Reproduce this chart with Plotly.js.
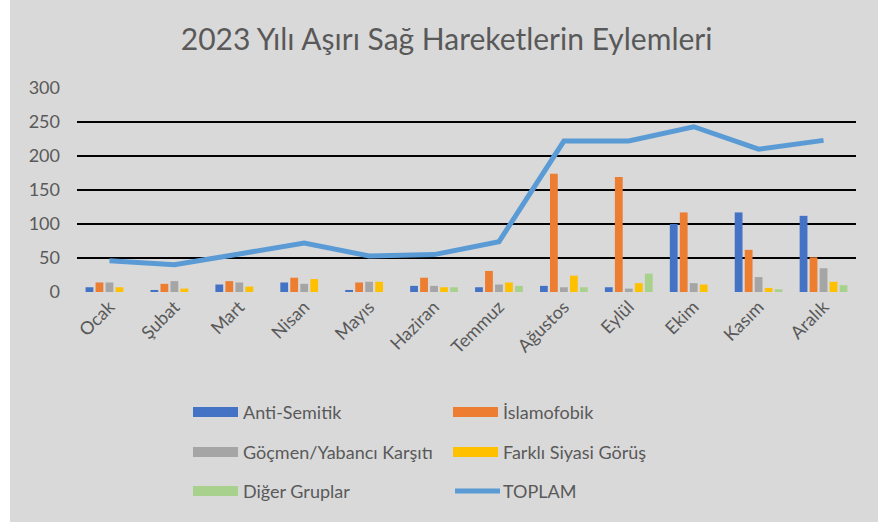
<!DOCTYPE html>
<html>
<head>
<meta charset="utf-8">
<script src="https://cdn.plot.ly/plotly-3.0.1.min.js"></script>
<style>
html,body{margin:0;padding:0;background:#ffffff;}
#chart{position:absolute;left:10px;top:0;width:868px;height:522px;}
</style>
</head>
<body>
<div id="chart"></div>
<script>
const months = ["Ocak","Şubat","Mart","Nisan","Mayıs","Haziran","Temmuz","Ağustos","Eylül","Ekim","Kasım","Aralık"];
const antiSemitik = [7, 3, 11, 14, 3, 9, 7, 9, 7, 100, 117, 112];
const islamofobik = [14, 12, 16, 21, 14, 21, 31, 174, 169, 117, 62, 51];
const gocmen = [14, 16, 14, 12, 15, 9, 11, 7, 5, 13, 22, 35];
const farkliSiyasi = [7, 5, 8, 19, 15, 7, 14, 24, 13, 11, 6, 15];
const digerGruplar = [0, 0, 0, 0, 0, 7, 9, 7, 27, 0, 4, 10];
const toplam = [46, 40, 56, 72, 53, 55, 74, 222, 222, 243, 210, 223];

const seriesNames = ["Anti-Semitik","İslamofobik","Göçmen/Yabancı Karşıtı","Farklı Siyasi Görüş","Diğer Gruplar","TOPLAM"];
const colors = ["#4472c4","#ed7d31","#a5a5a5","#ffc000","#a9d18e","#5b9bd5"];
const barData = [antiSemitik, islamofobik, gocmen, farkliSiyasi, digerGruplar];

const FONT = 'Lato, "Open Sans", sans-serif';
const W = 868, H = 522;
const margin = {l:67, r:22, t:88, b:230};
const pw = W - margin.l - margin.r, ph = H - margin.t - margin.b;
const px2x = p => (p - margin.l) / pw;
const px2y = p => (H - margin.b - p) / ph;

const traces = barData.map((d,i) => ({
  type:'bar', x: months, y: d, name: seriesNames[i],
  marker:{color: colors[i]}, showlegend:false, hoverinfo:'x+y+name'
}));
traces.push({
  type:'scatter', mode:'lines', x: months, y: toplam, name: seriesNames[5],
  line:{color: colors[5], width:5}, showlegend:false
});

// manual legend (layout decoration)
const shapes = [];
const annotations = [];
const colX = [183, 443];
const rowY = [412, 452, 491];
seriesNames.forEach((n,i) => {
  const c = i % 2, r = Math.floor(i/2);
  const x0 = colX[c], x1 = colX[c] + 45, yc = rowY[r];
  if (i < 5) {
    shapes.push({type:'rect', xref:'paper', yref:'paper',
      x0: px2x(x0), x1: px2x(x1), y0: px2y(yc+5), y1: px2y(yc-5),
      fillcolor: colors[i], line:{width:0}});
  } else {
    shapes.push({type:'line', xref:'paper', yref:'paper',
      x0: px2x(x0+2), x1: px2x(x1+2), y0: px2y(yc), y1: px2y(yc),
      line:{color: colors[i], width:5}});
  }
  annotations.push({xref:'paper', yref:'paper', x: px2x(x1 + 3), y: px2y(yc),
    text: n, showarrow:false, xanchor:'left', yanchor:'middle',
    font:{family: FONT, size:18, color:'#595959'}});
});

const layout = {
  width: W, height: H,
  paper_bgcolor:'#d9d9d9', plot_bgcolor:'#d9d9d9',
  margin: margin,
  title:{text:'2023 Yılı Aşırı Sağ Hareketlerin Eylemleri', x:0.503, xanchor:'center', y:0.925, yanchor:'middle',
    font:{family: FONT, size:30, color:'#595959'}},
  barmode:'group', bargap:0.23, bargroupgap:0.22,
  font:{family: FONT, size:18, color:'#595959'},
  xaxis:{tickangle:-45, showgrid:false, showline:false, zeroline:false, ticks:'',
    tickfont:{size:18, color:'#595959'}},
  yaxis:{range:[0,300], dtick:50, showgrid:true, gridcolor:'#000000', gridwidth:2,
    zeroline:false, showline:false, ticks:'', ticklabelstandoff:16,
    tickfont:{size:18, color:'#595959'}},
  shapes: shapes,
  annotations: annotations,
  showlegend:false
};

Plotly.newPlot('chart', traces, layout, {displayModeBar:false, staticPlot:true});
</script>
</body>
</html>
